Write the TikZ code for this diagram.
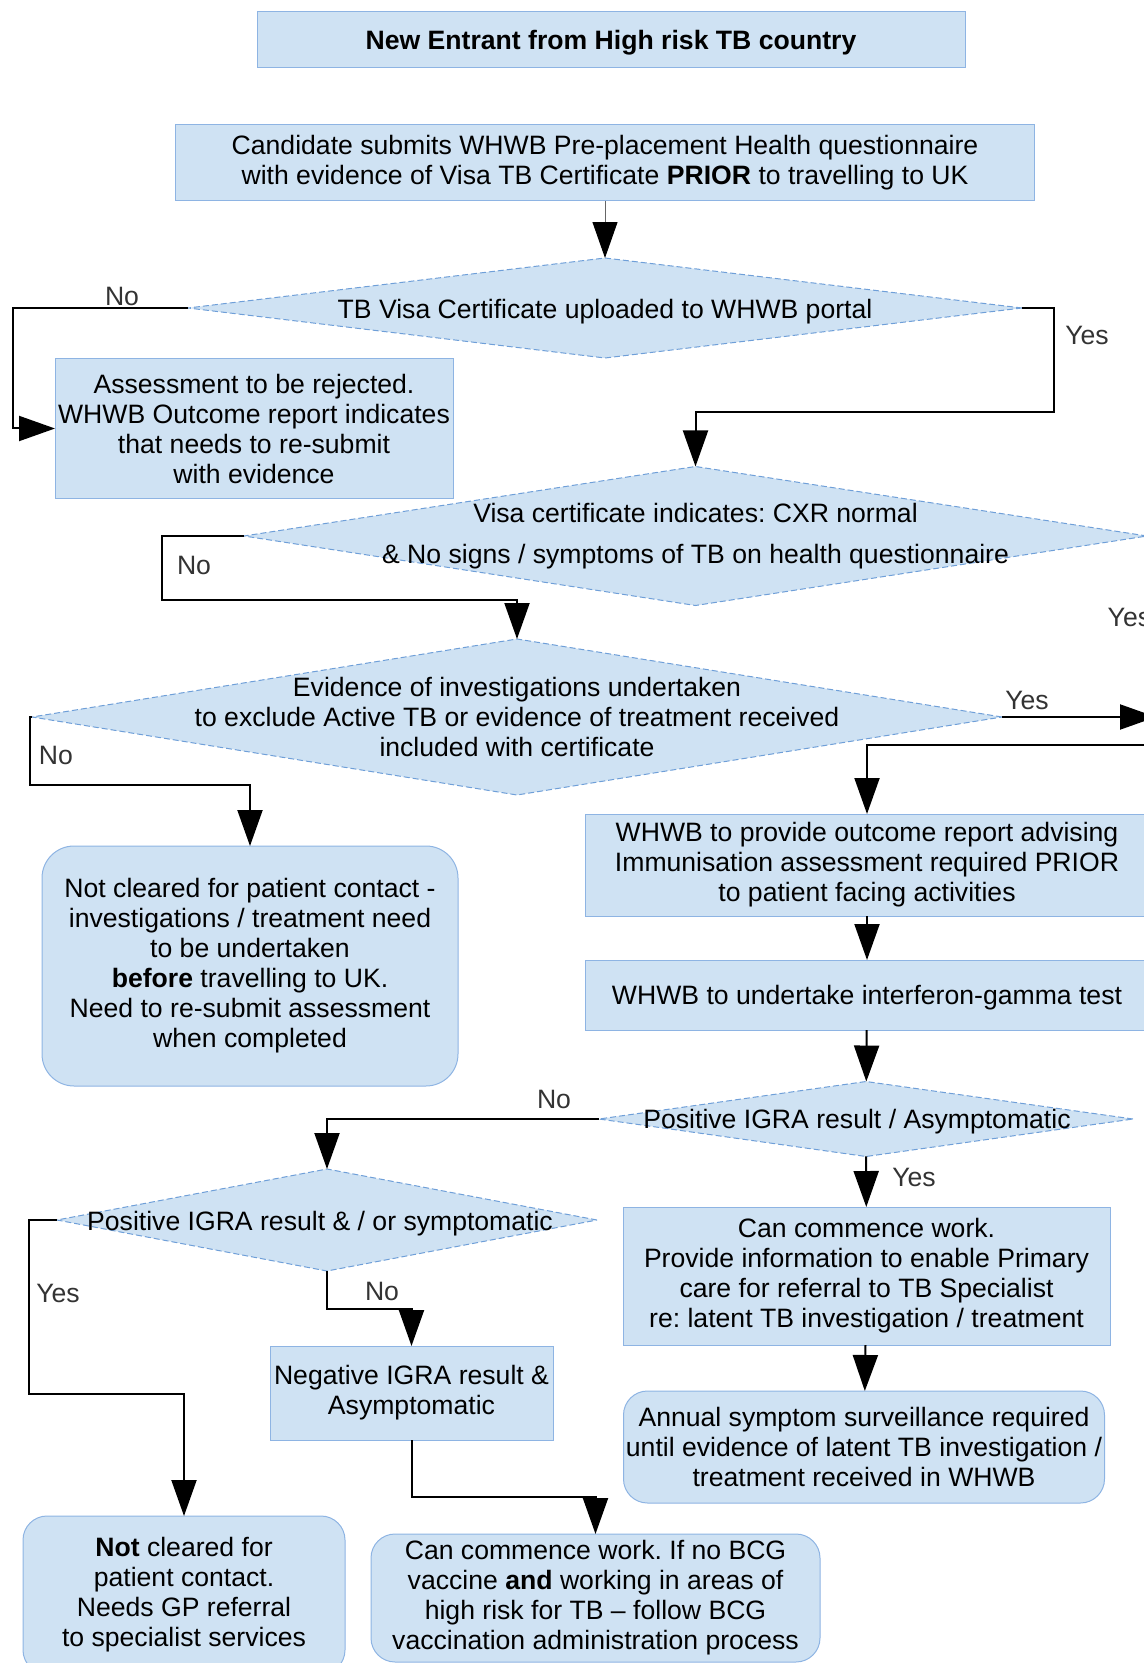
\documentclass[tikz,border=0pt]{standalone}
\usepackage{fontspec}
\setmainfont{Liberation Sans}
\usetikzlibrary{shapes.geometric,arrows.meta}

\definecolor{boxfill}{HTML}{CFE2F3}
\definecolor{boxline}{HTML}{8EB4E3}
\definecolor{dashline}{HTML}{6F9FD8}

\frenchspacing

\begin{document}
\begin{tikzpicture}[
            x = 0.5pt, y = -0.5pt,
            every node/.style={font=\fontsize{13.3}{15}\selectfont, outer sep=0pt},
            box/.style={rectangle, draw=boxline, fill=boxfill, line width=0.5pt, align=center, inner sep=0pt},
            rbox/.style={box, rounded corners=12pt},
            decision/.style={diamond, draw=dashline, fill=boxfill, dash pattern=on 3pt off 1.5pt, line width=0.5pt, inner sep=0pt},
            flow/.style={line width=1pt, -{Triangle[length=18pt, width=12.5pt, color=black]}},
            lbl/.style={text=black!80},
            ]

        \useasboundingbox (0,0) rectangle (1144,1663);
        \clip (0,0) rectangle (1144,1663);

        % top of the chart
        \node[box, text depth=0pt, minimum width=354pt, minimum height=28pt] (title) at (611,40) {\bfseries New Entrant from High risk TB country};
        \node[box, minimum width=429.5pt, minimum height=38pt] (cand) at (605,163)
            {Candidate submits WHWB Pre-placement Health questionnaire\\with evidence of Visa TB Certificate \textbf{PRIOR} to travelling to UK};
        \node[decision, minimum width=417pt, minimum height=50pt,
            label={[align=center, yshift=-2pt]center:{TB Visa Certificate uploaded to WHWB portal}}] (upload) at (605,308) {};
        \node[box, minimum width=199pt, minimum height=69.5pt] (reject) at (254,428.5)
            {Assessment to be rejected.\\WHWB Outcome report indicates\\that needs to re-submit\\with evidence};
        \node[decision, minimum width=451.5pt, minimum height=69.5pt,
            label={[align=center]center:{Visa certificate indicates: CXR normal\\[5.5pt]\& No signs / symptoms of TB on health questionnaire}}] (cxr) at (695.5,536) {};
        \node[decision, minimum width=485pt, minimum height=78pt,
            label={[align=center]center:{Evidence of investigations undertaken\\to exclude Active TB or evidence of treatment received\\included with certificate}}] (evid) at (517,717) {};
        \coordinate (offR) at (1156,717);

        % left column
        \node[rbox, rounded corners=16pt, minimum width=208pt, minimum height=120pt] (notclr) at (250,966)
            {Not cleared for patient contact -\\investigations / treatment need\\to be undertaken\\\textbf{before} travelling to UK.\\Need to re-submit assessment\\when completed};

        % right column
        \node[box, minimum width=282pt, minimum height=51pt] (outcome) at (867,865)
            {WHWB to provide outcome report advising\\Immunisation assessment required PRIOR\\to patient facing activities};
        \node[box, text depth=0pt, minimum width=282pt, minimum height=35pt] (igra) at (867,995) {WHWB to undertake interferon-gamma test};
        \node[decision, minimum width=267pt, minimum height=37.5pt,
            label={[align=center, yshift=-1.5pt, xshift=-4.5pt]center:{Positive IGRA result / Asymptomatic}}] (posasym) at (866,1119) {};
        \node[box, minimum width=243.5pt, minimum height=69pt] (commence) at (866.5,1276)
            {Can commence work.\\Provide information to enable Primary\\care for referral to TB Specialist\\re: latent TB investigation / treatment};
        \node[rbox, minimum width=240.5pt, minimum height=56pt] (annual) at (864,1447)
            {Annual symptom surveillance required\\until evidence of latent TB investigation /\\treatment received in WHWB};

        % bottom left
        \node[decision, minimum width=270pt, minimum height=51pt,
            label={[align=center, yshift=-2pt, xshift=-3.5pt]center:{Positive IGRA result \& / or symptomatic}}] (possym) at (327,1220) {};
        \node[box, minimum width=141.5pt, minimum height=47pt] (neg) at (411.5,1393)
            {Negative IGRA result \&\\Asymptomatic};
        \node[rbox, minimum width=161pt, minimum height=79pt] (gp) at (184,1595)
            {\textbf{Not} cleared for\\patient contact.\\Needs GP referral\\to specialist services};
        \node[rbox, minimum width=224.5pt, minimum height=64pt] (bcg) at (595.5,1598)
            {Can commence work. If no BCG\\vaccine \textbf{and} working in areas of\\high risk for TB \textendash{} follow BCG\\vaccination administration process};

        % connectors
        \draw[flow, line width=0.5pt, black!60] (cand) -- (upload);
        \draw[flow] (upload.west) -| (13,428.5) -- (reject.west);
        \draw[flow] (upload.east) -| (1054,412) -| (cxr.north);
        \draw[flow] (cxr.west) -| (162,600) -| (evid.north);
        \draw[flow] (cxr.east) -| (1170,745) -| (outcome.north);
        \draw[flow] (evid.east) -- (offR);
        \draw[flow] (evid.west) -| (30,784.5) -| (notclr.north);
        \draw[flow] (outcome) -- (igra);
        \draw[flow] (igra) -- (posasym);
        \draw[flow] (posasym.west) -| (possym.north);
        \draw[flow] (posasym) -- (commence);
        \draw[flow] (commence) -- (annual);
        \draw[flow] (possym.west) -| (29,1394) -| (gp.north);
        \draw[flow] (possym.south) -- (327,1309) -| (neg.north);
        \draw[flow] (neg.south) -- (411.5,1497) -| (bcg.north);

        % branch labels
        \node[lbl] (no1) at (122,296) {No};
        \node[lbl] (yes1) at (1087,335) {Yes};
        \node[lbl] (no2) at (194,565) {No};
        \node[lbl, anchor=west] (yes2) at (1101,617) {Yes};
        \node[lbl] (yes3) at (1027,700) {Yes};
        \node[lbl] (no3) at (56,755) {No};
        \node[lbl] (no4) at (554,1099) {No};
        \node[lbl] (yes4) at (914,1177) {Yes};
        \node[lbl] (yes5) at (58,1293) {Yes};
        \node[lbl] (no5) at (382,1291) {No};
    \end{tikzpicture}
\end{document}
